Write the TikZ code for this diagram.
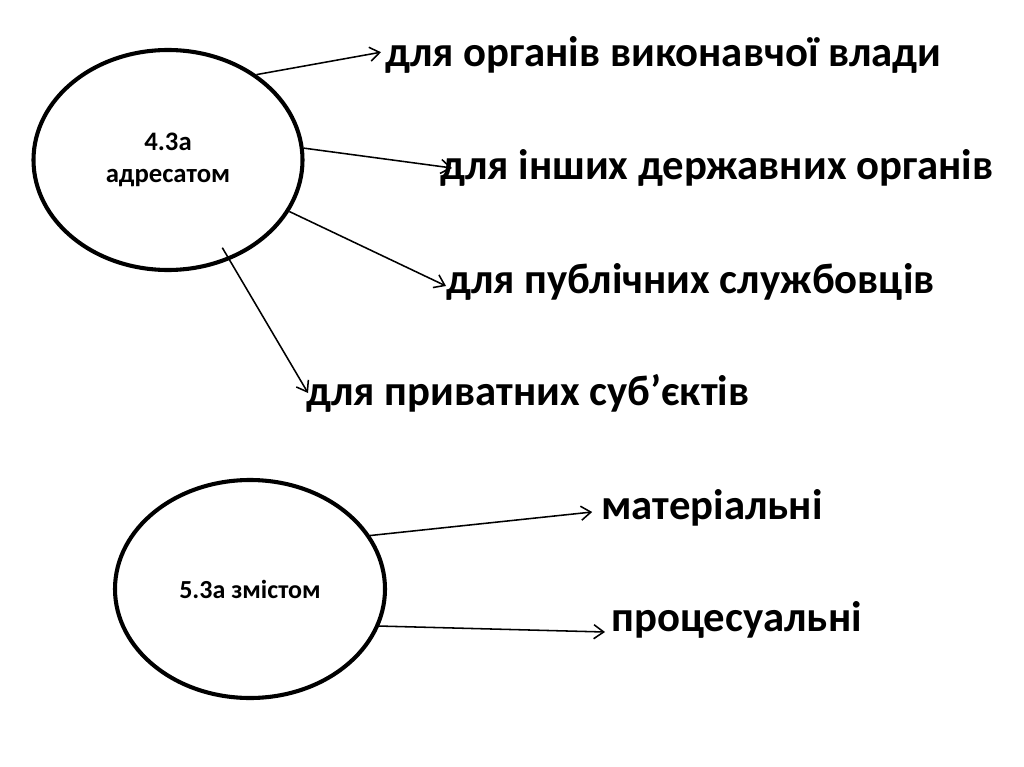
\documentclass[tikz,border=0pt]{standalone}
\usepackage{fontspec}
\setmainfont{Carlito}
\usepackage{tikz}
\usetikzlibrary{shapes.geometric,arrows.meta}

\tikzset{
  group/.style={draw,ellipse,line width=2.9pt,inner sep=0pt,align=center,
    font=\fontsize{19}{23}\selectfont\bfseries},
  kind/.style={anchor=west,inner sep=0pt,font=\fontsize{30.4}{36}\selectfont\bfseries},
  link/.style={-{Straight Barb[length=7pt,width=10pt]},line width=1.1pt}
}

\begin{document}
\begin{tikzpicture}[x=0.025cm,y=-0.025cm]
    \useasboundingbox (0,0) rectangle (1024,767);
    % two groups
    \node[group,minimum width=269*0.025cm,minimum height=220*0.025cm]
      (addr) at (168,160) {4.3а\\адресатом};
    \node[group,minimum width=270*0.025cm,minimum height=218*0.025cm,
          font=\fontsize{18.5}{22}\selectfont\bfseries]
      (cont) at (250,589) {5.3а змістом};
    % kinds
    \node[kind] (exec) at (385,55) {для органів виконавчої влади};
    \node[kind] (state) at (440,168) {для інших державних органів};
    \node[kind] (publ) at (446,282) {для публічних службовців};
    \node[kind] (priv) at (306,393) {для приватних суб’єктів};
    \node[kind] (mat) at (601,508) {матеріальні};
    \node[kind] (proc) at (611,620) {процесуальні};
    % arrows
    \draw[link] (addr.44) -- ([xshift=-0.1cm,yshift=0.07cm]exec.west);
    \draw[link] (addr.5) -- ([xshift=0.3cm]state.west);
    \draw[link] (addr.-23) -- ([yshift=-0.1cm]publ.west);
    \draw[link] ([xshift=-0.2cm,yshift=0.3cm]addr.-58) -- ([xshift=0.05cm]priv.west);
    \draw[link] (cont.24) -- ([xshift=-0.22cm,yshift=-0.1cm]mat.west);
    \draw[link] (cont.-16) -- ([xshift=-0.15cm,yshift=-0.3cm]proc.west);
\end{tikzpicture}
\end{document}
